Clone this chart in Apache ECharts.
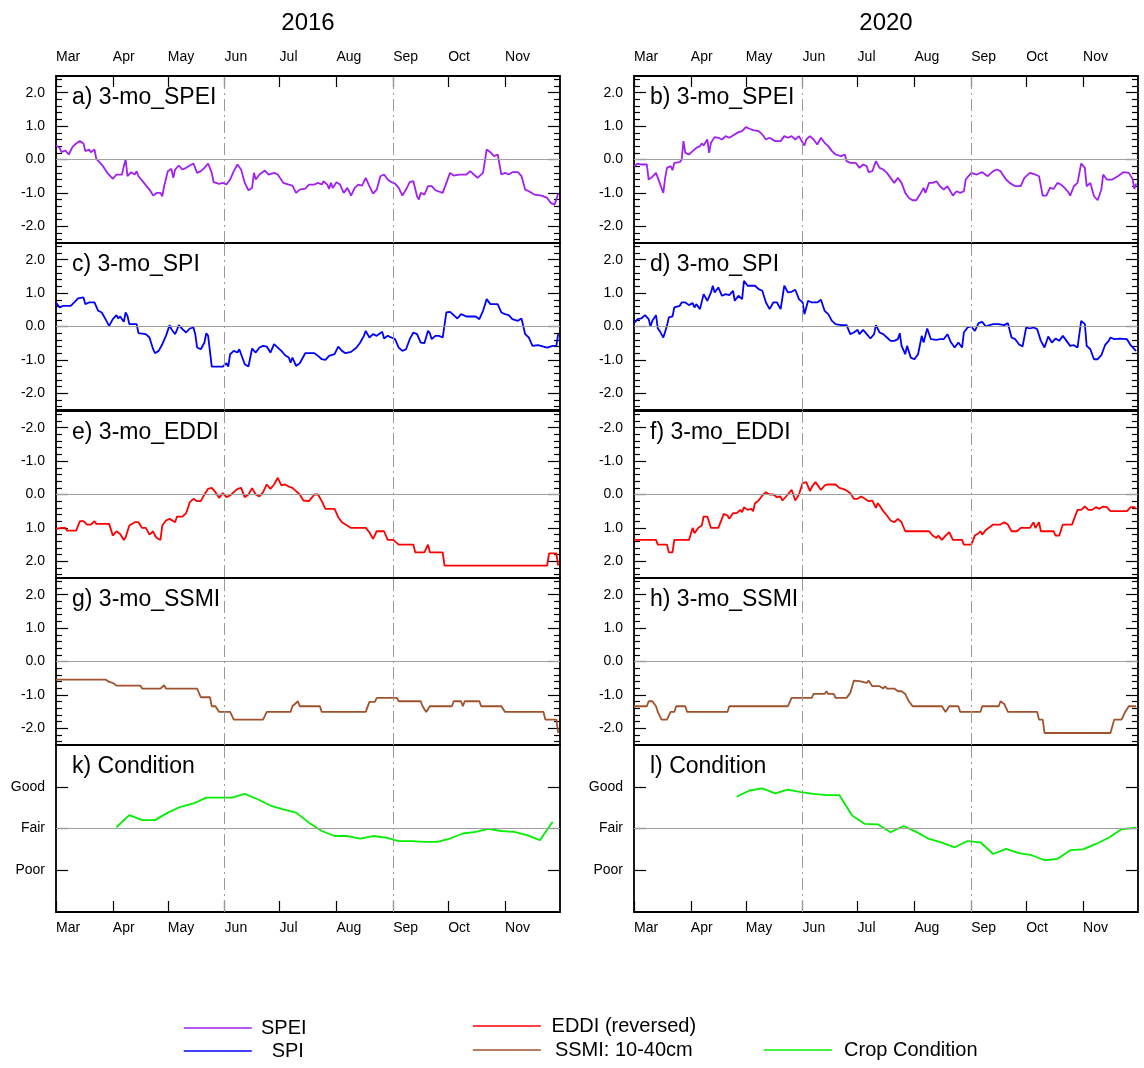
<!DOCTYPE html>
<html>
<head>
<meta charset="utf-8">
<script src="https://cdn.jsdelivr.net/npm/echarts@6/dist/echarts.min.js"></script>
<style>
  html, body { margin: 0; padding: 0; background: #fff; }
  #chart { width: 1144px; height: 1068px; }
</style>
</head>
<body>
<div id="chart"></div>
<script>
// ---- Season calendar (1 March to 1 December) ----
const MONTHS = ['Mar', 'Apr', 'May', 'Jun', 'Jul', 'Aug', 'Sep', 'Oct', 'Nov'];
const MONTH_DAYS = [31, 30, 31, 30, 31, 31, 30, 31, 30];
const MARKED_MONTHS = ['Jun', 'Sep'];
const YEARS = ['2016', '2020'];
const CONDITION_LABELS = ['Poor', 'Fair', 'Good'];

// ---- Daily index values: [day since 1 March, value] ----
const spei2016 = [[0,0.42],[2,0.35],[3,0.22],[5,0.27],[7,0.15],[9,0.38],[11,0.48],[13,0.55],[15,0.48],[16,0.25],[18,0.30],[19,0.22],[21,0.30],[22,0.02],[23,0.05],[25,-0.15],[28,-0.40],[31,-0.58],[33,-0.45],[36,-0.45],[37,-0.20],[38,0.0],[39,-0.50],[41,-0.38],[43,-0.45],[44,-0.35],[45,-0.50],[48,-0.70],[51,-0.90],[53,-1.08],[55,-1.00],[57,-1.00],[58,-1.10],[59,-0.80],[61,-0.35],[63,-0.28],[64,-0.55],[65,-0.30],[67,-0.18],[69,-0.30],[71,-0.25],[73,-0.18],[75,-0.12],[77,-0.40],[79,-0.35],[81,-0.25],[83,-0.12],[85,-0.40],[86,-0.68],[89,-0.73],[91,-0.70],[93,-0.75],[95,-0.60],[97,-0.35],[99,-0.15],[101,-0.30],[103,-0.70],[105,-0.92],[107,-0.85],[108,-0.40],[109,-0.60],[111,-0.45],[112,-0.48],[114,-0.33],[116,-0.45],[119,-0.40],[121,-0.45],[124,-0.70],[127,-0.75],[129,-0.78],[131,-1.00],[133,-0.90],[136,-0.87],[138,-0.75],[141,-0.75],[143,-0.70],[145,-0.75],[146,-0.65],[148,-0.75],[149,-0.88],[150,-0.70],[151,-0.85],[153,-0.68],[155,-0.75],[157,-1.00],[159,-0.85],[161,-1.08],[163,-0.85],[165,-0.75],[167,-0.78],[169,-0.55],[171,-0.80],[173,-1.02],[175,-0.90],[177,-0.50],[179,-0.45],[181,-0.60],[183,-0.68],[185,-0.72],[187,-0.85],[189,-1.08],[191,-0.90],[193,-0.68],[195,-0.65],[197,-1.10],[198,-1.20],[199,-1.00],[201,-1.05],[203,-0.80],[205,-0.80],[207,-0.92],[211,-1.00],[212,-0.85],[215,-0.40],[217,-0.48],[220,-0.45],[224,-0.45],[226,-0.35],[228,-0.45],[230,-0.55],[233,-0.40],[235,0.30],[237,0.22],[239,0.10],[241,0.15],[243,-0.45],[245,-0.40],[247,-0.45],[249,-0.38],[252,-0.38],[254,-0.50],[256,-0.90],[258,-0.95],[261,-1.05],[265,-1.08],[268,-1.15],[270,-1.30],[272,-1.35],[273,-1.20],[274,-1.02]];

const spei2020 = [[0,-0.20],[2,-0.12],[4,-0.15],[7,-0.15],[8,-0.60],[10,-0.52],[12,-0.40],[13,-0.55],[14,-0.70],[16,-1.00],[17,-0.55],[18,-0.25],[20,-0.20],[21,-0.32],[22,-0.10],[25,-0.08],[26,0.0],[27,0.55],[28,0.20],[30,0.15],[32,0.25],[33,0.20],[34,0.35],[36,0.40],[37,0.48],[38,0.42],[40,0.60],[41,0.20],[42,0.50],[44,0.67],[46,0.65],[48,0.60],[50,0.70],[52,0.65],[54,0.72],[57,0.82],[59,0.85],[61,0.97],[63,0.92],[65,0.88],[68,0.85],[70,0.75],[72,0.60],[74,0.65],[77,0.55],[80,0.55],[82,0.70],[84,0.65],[86,0.70],[88,0.60],[90,0.70],[92,0.50],[93,0.42],[94,0.60],[96,0.70],[98,0.60],[100,0.45],[102,0.65],[104,0.50],[106,0.40],[108,0.25],[110,0.15],[113,0.10],[115,0.15],[116,-0.05],[118,-0.10],[121,-0.10],[123,-0.25],[125,-0.15],[127,-0.20],[128,-0.38],[130,-0.35],[132,-0.05],[134,-0.25],[136,-0.30],[138,-0.40],[140,-0.55],[142,-0.70],[144,-0.55],[146,-0.70],[148,-1.00],[150,-1.15],[152,-1.22],[154,-1.22],[156,-1.05],[158,-0.85],[159,-1.00],[161,-0.70],[163,-0.70],[165,-0.65],[167,-0.80],[169,-0.90],[171,-0.80],[174,-1.08],[176,-0.95],[178,-1.00],[180,-0.95],[181,-0.60],[184,-0.40],[187,-0.45],[190,-0.38],[193,-0.50],[196,-0.35],[198,-0.30],[200,-0.35],[203,-0.60],[205,-0.70],[208,-0.80],[211,-0.80],[213,-0.55],[216,-0.40],[219,-0.45],[221,-0.50],[223,-1.08],[225,-1.08],[227,-0.85],[229,-0.88],[231,-0.70],[233,-0.75],[235,-0.85],[237,-0.98],[238,-1.08],[240,-0.80],[242,-0.70],[244,-0.12],[246,-0.25],[247,-0.80],[249,-0.70],[251,-1.10],[253,-1.22],[255,-0.90],[256,-0.45],[258,-0.60],[261,-0.60],[264,-0.50],[267,-0.38],[270,-0.40],[272,-0.58],[273,-0.88],[274,-0.72]];

const spi2016 = [[0,0.72],[2,0.57],[4,0.62],[8,0.62],[10,0.72],[12,0.84],[13,0.80],[15,0.87],[16,0.67],[18,0.72],[21,0.72],[23,0.47],[25,0.42],[27,0.22],[29,0.02],[30,0.04],[31,0.22],[33,0.34],[34,0.24],[35,0.30],[37,0.14],[38,0.42],[39,0.32],[40,0.07],[41,0.10],[44,0.07],[45,-0.20],[49,-0.23],[51,-0.33],[53,-0.68],[54,-0.80],[56,-0.73],[58,-0.53],[60,-0.28],[62,0.04],[63,-0.08],[65,-0.23],[66,-0.10],[67,0.04],[69,-0.08],[71,-0.18],[72,-0.13],[73,-0.06],[75,-0.03],[76,-0.23],[77,-0.63],[79,-0.68],[81,-0.48],[82,-0.20],[83,-0.28],[85,-1.20],[91,-1.20],[93,-1.10],[94,-1.20],[95,-0.83],[97,-0.73],[99,-0.78],[100,-0.68],[101,-0.83],[103,-1.13],[104,-1.08],[105,-1.20],[107,-0.66],[109,-0.78],[111,-0.63],[113,-0.58],[115,-0.60],[117,-0.78],[119,-0.53],[121,-0.63],[123,-0.73],[125,-0.86],[127,-0.93],[128,-1.08],[129,-0.93],[131,-1.18],[133,-1.10],[136,-0.80],[141,-0.80],[143,-0.88],[145,-0.98],[147,-1.00],[149,-0.88],[152,-0.83],[154,-0.60],[156,-0.73],[158,-0.80],[161,-0.76],[164,-0.63],[166,-0.48],[168,-0.28],[169,-0.13],[171,-0.33],[173,-0.23],[175,-0.28],[178,-0.16],[179,-0.36],[181,-0.28],[183,-0.33],[185,-0.38],[187,-0.63],[189,-0.73],[191,-0.68],[193,-0.38],[195,-0.18],[197,-0.23],[199,-0.48],[201,-0.50],[203,-0.13],[204,-0.20],[205,-0.38],[207,-0.28],[209,-0.28],[211,-0.33],[213,0.42],[215,0.44],[217,0.34],[219,0.24],[221,0.37],[224,0.30],[229,0.30],[231,0.22],[233,0.47],[235,0.82],[237,0.67],[241,0.67],[243,0.42],[245,0.37],[247,0.34],[249,0.22],[252,0.17],[254,0.24],[256,-0.23],[258,-0.33],[260,-0.58],[261,-0.63],[263,-0.56],[266,-0.60],[268,-0.63],[271,-0.58],[273,-0.58],[274,-0.23]];

const spi2020 = [[0,0.10],[2,0.22],[4,0.24],[6,0.34],[8,0.22],[9,0.00],[10,0.17],[12,0.34],[13,-0.06],[14,-0.13],[16,-0.33],[18,0.02],[19,0.27],[21,0.30],[22,0.57],[25,0.62],[26,0.72],[28,0.72],[30,0.64],[32,0.70],[33,0.57],[34,0.67],[36,0.52],[38,0.97],[40,0.77],[42,1.02],[43,1.22],[44,1.02],[46,1.17],[48,0.92],[50,0.97],[52,0.94],[54,1.07],[55,0.77],[57,0.92],[59,0.82],[60,1.37],[62,1.22],[66,1.22],[68,1.12],[70,1.07],[72,0.72],[74,0.52],[76,0.72],[78,0.72],[80,0.52],[82,1.22],[84,1.02],[86,1.04],[88,1.10],[90,0.82],[92,0.72],[93,0.37],[95,0.77],[97,0.72],[100,0.72],[102,0.80],[104,0.47],[106,0.37],[108,0.17],[110,0.07],[113,0.04],[116,0.04],[118,-0.23],[120,-0.18],[122,-0.10],[123,-0.23],[125,-0.10],[127,-0.23],[129,-0.36],[131,-0.23],[132,0.04],[134,-0.18],[136,-0.23],[138,-0.33],[140,-0.43],[142,-0.43],[144,-0.38],[145,-0.20],[146,-0.58],[148,-0.83],[149,-0.58],[151,-0.93],[153,-0.98],[155,-0.83],[156,-0.86],[157,-0.28],[158,-0.48],[160,-0.06],[162,-0.38],[163,-0.33],[165,-0.40],[167,-0.38],[169,-0.38],[171,-0.23],[173,-0.48],[175,-0.63],[177,-0.48],[179,-0.63],[180,-0.18],[182,-0.03],[184,0.00],[186,-0.13],[188,0.10],[190,0.14],[192,0.00],[194,0.04],[196,0.07],[199,0.07],[200,0.12],[202,0.04],[204,0.10],[206,-0.33],[208,-0.38],[210,-0.53],[212,-0.60],[214,-0.03],[216,-0.06],[218,-0.03],[220,-0.08],[222,-0.43],[224,-0.63],[226,-0.30],[228,-0.48],[230,-0.36],[232,-0.43],[234,-0.28],[236,-0.43],[238,-0.58],[240,-0.56],[242,-0.63],[244,0.17],[246,0.07],[247,-0.58],[249,-0.68],[251,-0.98],[253,-0.98],[255,-0.86],[257,-0.56],[259,-0.43],[260,-0.33],[262,-0.38],[265,-0.36],[269,-0.38],[271,-0.56],[273,-0.68],[274,-0.73]];

const eddi2016 = [[0,1.03],[1,1.08],[3,1.00],[5,1.00],[6,1.08],[11,1.08],[13,0.80],[15,0.80],[17,0.90],[19,0.90],[21,0.80],[22,0.88],[29,0.88],[31,1.23],[33,1.10],[35,1.18],[37,1.36],[38,1.28],[40,0.93],[43,0.83],[45,0.83],[47,1.00],[49,1.00],[51,1.20],[53,1.10],[54,1.23],[55,1.30],[57,1.36],[58,0.93],[60,0.78],[62,0.73],[63,0.73],[65,0.83],[66,0.66],[69,0.66],[71,0.56],[73,0.23],[75,0.13],[77,0.20],[79,0.20],[81,0.00],[83,-0.17],[85,-0.20],[87,-0.07],[89,0.10],[91,-0.04],[93,0.08],[95,0.03],[96,0.00],[97,-0.07],[99,-0.17],[101,-0.20],[102,-0.24],[103,0.08],[105,0.00],[107,-0.19],[109,0.00],[111,0.06],[113,-0.07],[115,-0.30],[117,-0.17],[119,-0.30],[121,-0.50],[123,-0.27],[125,-0.30],[127,-0.24],[129,-0.20],[131,-0.10],[133,0.00],[135,0.18],[138,0.20],[141,0.00],[143,0.00],[145,0.20],[147,0.43],[152,0.43],[154,0.68],[156,0.83],[158,0.90],[161,1.00],[169,1.00],[171,1.13],[173,1.33],[175,1.10],[179,1.10],[181,1.36],[184,1.36],[187,1.50],[195,1.50],[196,1.73],[201,1.73],[203,1.50],[204,1.73],[211,1.73],[212,2.13],[268,2.13],[269,1.76],[273,1.76],[274,2.13]];

const eddi2020 = [[0,1.36],[12,1.36],[13,1.50],[18,1.50],[19,1.73],[21,1.73],[22,1.36],[30,1.36],[32,1.00],[33,1.16],[35,1.00],[37,0.93],[38,0.66],[40,0.66],[42,1.00],[46,1.00],[49,0.58],[51,0.63],[52,0.73],[54,0.56],[56,0.56],[58,0.46],[59,0.53],[60,0.38],[62,0.46],[64,0.43],[65,0.50],[66,0.26],[68,0.18],[70,0.03],[72,-0.07],[74,0.00],[76,0.00],[78,0.08],[80,0.06],[81,0.18],[83,0.06],[85,-0.07],[86,-0.14],[88,0.18],[89,0.20],[90,0.00],[92,-0.34],[93,-0.30],[94,-0.37],[96,-0.10],[97,-0.22],[99,-0.37],[101,-0.22],[102,-0.14],[104,-0.27],[106,-0.30],[110,-0.30],[112,-0.20],[114,-0.17],[116,-0.12],[118,-0.04],[120,0.13],[122,0.13],[124,0.06],[126,0.13],[128,0.20],[130,0.18],[132,0.40],[133,0.26],[134,0.33],[136,0.50],[138,0.63],[140,0.78],[142,0.83],[144,0.73],[146,0.83],[148,1.10],[161,1.10],[163,1.23],[165,1.30],[166,1.23],[168,1.36],[170,1.23],[172,1.13],[174,1.36],[179,1.36],[180,1.50],[184,1.50],[186,1.23],[188,1.16],[189,1.10],[190,1.20],[192,1.06],[194,0.98],[196,0.90],[200,0.90],[202,0.83],[204,0.90],[206,1.10],[209,1.10],[211,1.00],[216,1.00],[218,0.83],[219,1.00],[221,0.83],[222,1.10],[229,1.10],[230,1.23],[232,1.23],[234,0.90],[239,0.90],[242,0.46],[244,0.46],[246,0.36],[248,0.46],[250,0.46],[252,0.38],[254,0.43],[256,0.36],[258,0.38],[260,0.50],[269,0.50],[271,0.38],[273,0.38],[274,0.43]];

const ssmi2016 = [[0,-0.54],[27,-0.54],[29,-0.61],[31,-0.64],[33,-0.72],[46,-0.72],[47,-0.81],[57,-0.81],[59,-0.71],[60,-0.81],[77,-0.81],[79,-1.07],[84,-1.07],[85,-1.34],[87,-1.34],[89,-1.51],[95,-1.51],[97,-1.74],[113,-1.74],[115,-1.51],[128,-1.51],[129,-1.34],[132,-1.19],[133,-1.34],[144,-1.34],[145,-1.51],[169,-1.51],[171,-1.21],[174,-1.21],[175,-1.09],[186,-1.09],[187,-1.19],[199,-1.19],[200,-1.34],[202,-1.51],[204,-1.34],[216,-1.34],[217,-1.19],[221,-1.19],[222,-1.34],[223,-1.19],[231,-1.19],[232,-1.34],[243,-1.34],[245,-1.51],[266,-1.51],[267,-1.74],[273,-1.74],[274,-2.14]];

const ssmi2020 = [[0,-1.34],[7,-1.34],[8,-1.19],[10,-1.19],[12,-1.34],[13,-1.51],[15,-1.74],[18,-1.74],[20,-1.51],[22,-1.51],[23,-1.34],[28,-1.34],[29,-1.51],[51,-1.51],[52,-1.34],[84,-1.34],[86,-1.09],[97,-1.09],[98,-0.97],[104,-0.97],[105,-0.89],[106,-0.97],[109,-0.97],[110,-1.09],[116,-1.09],[118,-0.94],[120,-0.57],[123,-0.59],[124,-0.57],[127,-0.64],[128,-0.57],[130,-0.74],[134,-0.74],[136,-0.81],[137,-0.74],[138,-0.81],[142,-0.81],[144,-0.89],[146,-0.89],[148,-0.97],[149,-1.09],[150,-1.19],[152,-1.34],[168,-1.34],[170,-1.51],[172,-1.34],[177,-1.34],[178,-1.51],[189,-1.51],[190,-1.34],[199,-1.34],[200,-1.19],[202,-1.27],[203,-1.39],[204,-1.51],[220,-1.51],[221,-1.74],[223,-1.74],[224,-2.14],[260,-2.14],[262,-1.74],[266,-1.74],[268,-1.51],[269,-1.51],[270,-1.34],[274,-1.34]];

// ---- Weekly crop condition (-1 Poor, 0 Fair, 1 Good) ----
const condition2016 = [[33,0.03],[40,0.32],[47,0.20],[54,0.20],[61,0.38],[68,0.52],[75,0.60],[82,0.74],[89,0.74],[96,0.74],[103,0.83],[110,0.70],[117,0.55],[124,0.46],[131,0.38],[138,0.14],[145,-0.06],[152,-0.18],[159,-0.18],[166,-0.24],[173,-0.18],[180,-0.22],[187,-0.30],[194,-0.30],[201,-0.32],[208,-0.32],[215,-0.24],[222,-0.12],[229,-0.08],[236,-0.01],[243,-0.06],[250,-0.08],[257,-0.16],[264,-0.28],[271,0.16]];

const condition2020 = [[56,0.76],[63,0.91],[70,0.96],[77,0.84],[84,0.93],[91,0.87],[98,0.83],[105,0.80],[112,0.80],[119,0.31],[126,0.11],[133,0.10],[140,-0.09],[147,0.06],[154,-0.08],[161,-0.25],[168,-0.34],[175,-0.45],[182,-0.30],[189,-0.33],[196,-0.61],[203,-0.49],[210,-0.59],[217,-0.64],[224,-0.76],[231,-0.73],[238,-0.52],[245,-0.50],[252,-0.37],[259,-0.22],[266,-0.02],[274,0.02]];

// ---- Panel rows ----
const ROWS = [
  { tag: '3-mo_SPEI', name: 'SPEI', color: '#a020f0', letters: ['a', 'b'], data: [spei2016, spei2020] },
  { tag: '3-mo_SPI', name: 'SPI', color: '#0000ff', letters: ['c', 'd'], data: [spi2016, spi2020] },
  { tag: '3-mo_EDDI', name: 'EDDI (reversed)', color: '#ff0000', letters: ['e', 'f'], data: [eddi2016, eddi2020], inverse: true },
  { tag: '3-mo_SSMI', name: 'SSMI: 10-40cm', color: '#a0522d', letters: ['g', 'h'], data: [ssmi2016, ssmi2020] },
  { tag: 'Condition', name: 'Crop Condition', color: '#00f000', letters: ['k', 'l'], data: [condition2016, condition2020], condition: true }
];

// ---- Layout ----
const FONT = '"Liberation Sans", Arial, Helvetica, sans-serif';
const COL_LEFT = [56, 634];
const PANEL_W = 504;
const ROW_TOP = [76, 243, 411, 578, 745];
const PANEL_H = 167;

const monthStarts = [];
let seasonEnd = 0;
MONTH_DAYS.forEach(d => { monthStarts.push(seasonEnd); seasonEnd += d; });
const markedDays = MARKED_MONTHS.map(m => monthStarts[MONTHS.indexOf(m)]);

const majorIndex = [-2, -1, 0, 1, 2];
const minorIndex = [];
for (let k = -12; k <= 12; k++) if (k % 5 !== 0) minorIndex.push(k / 5);
const conditionTicks = [-1, 0, 1];

const tickLine = { color: '#000', width: 1.2 };
const grids = [], xAxes = [], yAxes = [], series = [], titles = [];

YEARS.forEach((year, col) => {
  titles.push({
    text: year, left: COL_LEFT[col] + PANEL_W / 2, top: 11, padding: 0, textAlign: 'center',
    textStyle: { fontSize: 24, fontWeight: 'normal', color: '#000', fontFamily: FONT }
  });
});

ROWS.forEach((row, r) => {
  YEARS.forEach((year, col) => {
    const i = grids.length;
    grids.push({
      left: COL_LEFT[col], top: ROW_TOP[r], width: PANEL_W, height: PANEL_H,
      show: true, borderColor: '#000', borderWidth: 1.8, backgroundColor: 'transparent',
      containLabel: false, outerBoundsMode: 'none'
    });

    const showMonths = r === 0 || r === ROWS.length - 1;
    xAxes.push({
      gridIndex: i, type: 'value', min: 0, max: seasonEnd,
      position: r === 0 ? 'top' : 'bottom',
      axisLine: { show: false, onZero: false }, splitLine: { show: false },
      axisTick: { show: showMonths, inside: true, length: 11, customValues: monthStarts, lineStyle: tickLine },
      axisLabel: {
        show: showMonths, customValues: monthStarts, align: 'left',
        margin: r === 0 ? 12 : 9, color: '#000', fontSize: 14, fontFamily: FONT,
        formatter: v => MONTHS[monthStarts.indexOf(v)]
      }
    });

    const common = {
      gridIndex: i, type: 'value', inverse: !!row.inverse,
      min: row.condition ? -2 : -2.5, max: row.condition ? 2 : 2.5,
      axisLine: { show: false, onZero: false }, splitLine: { show: false }
    };
    const major = row.condition ? conditionTicks : majorIndex;
    const labelFmt = row.condition ? (v => CONDITION_LABELS[v + 1]) : (v => v.toFixed(1));
    const yBase = yAxes.length;
    ['left', 'right'].forEach(side => {
      yAxes.push(Object.assign({}, common, {
        position: side,
        axisTick: { show: true, inside: true, length: 12, customValues: major, lineStyle: tickLine },
        axisLabel: {
          show: side === 'left', customValues: major, formatter: labelFmt,
          margin: 11, color: '#000', fontSize: 14, fontFamily: FONT
        }
      }));
      yAxes.push(Object.assign({}, common, {
        position: side,
        axisTick: { show: !row.condition, inside: true, length: 6, customValues: minorIndex, lineStyle: tickLine },
        axisLabel: { show: false }
      }));
    });

    series.push({
      name: row.name, type: 'line', xAxisIndex: i, yAxisIndex: yBase,
      data: row.data[col], symbol: 'none', smooth: false, clip: true, z: 3,
      lineStyle: { color: row.color, width: 1.8 }, itemStyle: { color: row.color },
      markLine: {
        silent: true, symbol: ['none', 'none'], label: { show: false }, animation: false,
        data: [
          { yAxis: 0, lineStyle: { color: '#a0a0a0', width: 1, type: 'solid' } },
          ...markedDays.map(d => ({ xAxis: d, lineStyle: { color: '#9a9a9a', width: 1, type: [12, 4, 2, 4] } }))
        ]
      }
    });

    titles.push({
      text: row.letters[col] + ') ' + row.tag,
      left: COL_LEFT[col] + 16, top: ROW_TOP[r] + 10, padding: 0,
      textStyle: { fontSize: 23, fontWeight: 'normal', color: '#000', fontFamily: FONT }
    });
  });
});

// ---- Legend: one entry per component, laid out in three columns ----
const LEGEND_ENTRIES = [
  { name: 'SPEI', left: 183, y: 1025, textWidth: 54 },
  { name: 'SPI', left: 183, y: 1048, textWidth: 62 },
  { name: 'EDDI (reversed)', left: 472, y: 1023, textWidth: 156 },
  { name: 'SSMI: 10-40cm', left: 472, y: 1047, textWidth: 156 },
  { name: 'Crop Condition', left: 763, y: 1047, textWidth: 148 }
];
const legends = LEGEND_ENTRIES.map(e => ({
  data: [e.name], left: e.left, top: e.y - 7, padding: 0,
  itemWidth: 68, itemHeight: 14, selectedMode: false,
  itemStyle: { opacity: 0 },
  lineStyle: { width: 1.6 },
  formatter: name => '{t|' + name + '}',
  textStyle: {
    color: '#000', fontSize: 20, fontFamily: FONT,
    rich: { t: { width: e.textWidth, align: 'center', fontSize: 20, fontFamily: FONT, color: '#000', lineHeight: 14 } }
  }
}));

const chart = echarts.init(document.getElementById('chart'), null, { renderer: 'canvas' });
chart.setOption({
  backgroundColor: '#fff',
  animation: false,
  title: titles,
  legend: legends,
  grid: grids,
  xAxis: xAxes,
  yAxis: yAxes,
  series: series
});
</script>
</body>
</html>
